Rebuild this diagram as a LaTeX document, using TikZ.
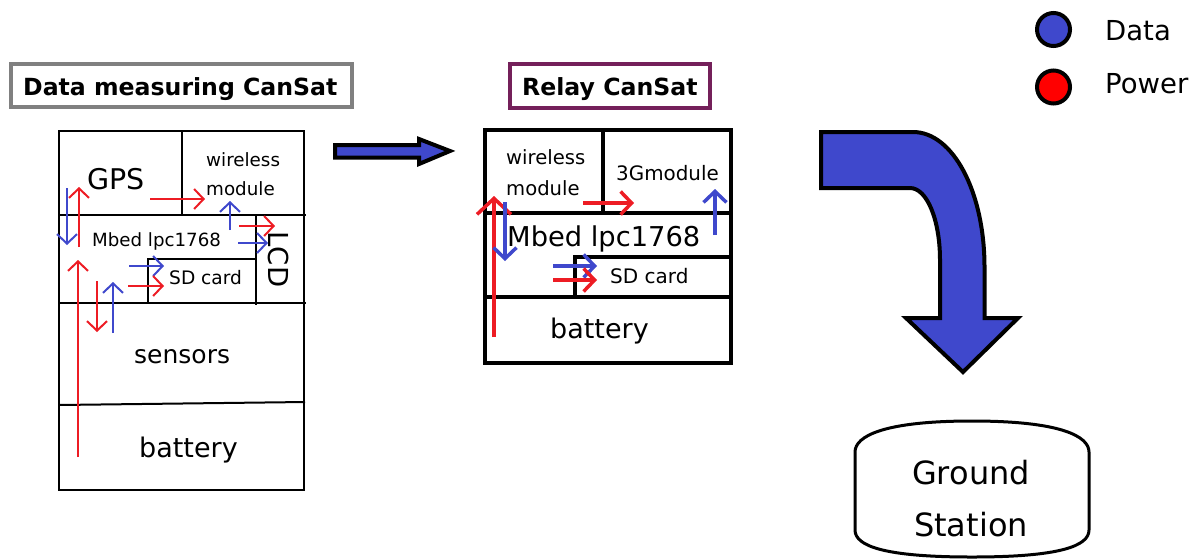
\documentclass[tikz,border=0pt]{standalone}
\usepackage{fontspec}
\setmainfont{DejaVu Sans}
\usetikzlibrary{arrows.meta}
\definecolor{pr}{HTML}{ED1C24}
\definecolor{pb}{HTML}{3F48CC}
\definecolor{lgray}{HTML}{808080}
\definecolor{purp}{HTML}{74205A}
\definecolor{legred}{HTML}{FF0000}
\newcommand\myfs[1]{\fontsize{#1}{#1}\selectfont}
\begin{document}
\begin{tikzpicture}[x=1pt,y=-1pt,
  txt/.style={inner sep=0pt, anchor=base west},
  thin box/.style={draw=black, line width=2pt},
  thick box/.style={draw=black, line width=4pt},
  sarrow/.style={line width=2pt, -{Straight Barb[length=9.5pt,width=20pt]}},
  barrow/.style={line width=3.5pt, -{Straight Barb[length=11pt,width=23pt]}},
  bigarrow/.style={line width=3.5pt, -{Straight Barb[length=16pt,width=34pt]}},
  fat/.style={draw=black, line width=4pt, fill=pb, line join=miter}]
\useasboundingbox (0,0) rectangle (1204,558);

% ---------- titles ----------
\draw[lgray, line width=4pt] (11,64) rectangle (352,107);
\node[txt] (t1) at (23,95) {\myfs{23.6}\bfseries Data measuring CanSat};
\draw[purp, line width=4pt] (510,64) rectangle (710,108);
\node[txt] (t2) at (522,95) {\myfs{23.6}\bfseries Relay CanSat};

% ---------- left CanSat ----------
\draw[thin box] (59,131) rectangle (304,490);
\draw[thin box] (182,131) -- (182,215);
\draw[thin box] (59,215) -- (306,215);
\draw[thin box] (256,214) -- (256,305);
\draw[thin box] (148,303) -- (148,259) -- (256,259);
\draw[thin box] (58,303) -- (306,303);
\draw[thin box] (59,405) -- (305,402);

\node[txt] (gps) at (87,189) {\myfs{28.5}GPS};
\node[txt] (wl1) at (206,166) {\myfs{18.3}wireless};
\node[txt] (wl2) at (206,195) {\myfs{18.3}module};
\node[txt] (mb1) at (92,246) {\myfs{18.2}Mbed lpc1768};
\node[txt] (sd1) at (169,284) {\myfs{18.6}SD card};
\node[inner sep=0pt, rotate=-90] (lcd) at (278.5,259.5) {\myfs{27.5}LCD};
\node[txt] (sens) at (134,363) {\myfs{25}sensors};
\node[txt] (bat1) at (139,457) {\myfs{27}battery};

\draw[sarrow, pb] (67,188) -- (67,245);
\draw[sarrow, pr] (79,247) -- (79,187);
\draw[sarrow, pr] (78,457) -- (78,260);
\draw[sarrow, pr] (97,281) -- (97,332);
\draw[sarrow, pb] (113,333) -- (113,282);
\draw[sarrow, pb] (129,266) -- (164,266);
\draw[sarrow, pr] (128,286) -- (164,286);
\draw[sarrow, pr] (150,199) -- (205,199);
\draw[sarrow, pb] (230,230) -- (230,201);
\draw[sarrow, pr] (239,226) -- (275,226);
\draw[sarrow, pb] (238,243) -- (268,243);

% ---------- middle arrow ----------
\draw[fat] (335,145) -- (419,145) -- (419,139) -- (450,151) -- (419,164) -- (419,157.5) -- (335,157.5) -- cycle;

% ---------- relay CanSat ----------
\draw[thick box] (485,130) rectangle (731,362.7);
\draw[thick box] (603.3,130) -- (603.3,213.3);
\draw[thick box] (485,213.3) -- (731,213.3);
\draw[thick box] (575,297.3) -- (575,257.3) -- (731,257.3);
\draw[thick box] (485,297.3) -- (731,297.3);

\node[txt] (wl3) at (506,164) {\myfs{19.6}wireless};
\node[txt] (wl4) at (506,195) {\myfs{19.6}module};
\node[txt] (g3) at (616,180) {\myfs{19.9}3Gmodule};
\node[txt] (mb2) at (507,246) {\myfs{27.3}Mbed lpc1768};
\node[txt] (sd2) at (610,283) {\myfs{20}SD card};
\node[txt] (bat2) at (550,338) {\myfs{27}battery};

\draw[bigarrow, pr] (494,337) -- (494,196);
\draw[barrow, pb] (505,202) -- (505,261);
\draw[barrow, pr] (583,203) -- (634,203);
\draw[barrow, pb] (715,235) -- (715,189);
\draw[barrow, pb] (553,266) -- (597,266);
\draw[barrow, pr] (553,280) -- (597,280);

% ---------- big curved arrow ----------
\draw[fat] (821,132) -- (913,132) .. controls (953,132) and (984.5,192) .. (984.5,267)
  -- (984.5,318) -- (1018,318) -- (963,372) -- (906,318) -- (940,318) -- (940,260)
  .. controls (940,220) and (927,188) .. (910,188) -- (821,188) -- cycle;

% ---------- ground station ----------
\draw[line width=3pt] (855,530) -- (855,452) .. controls (855,436) and (884,421) .. (972,421)
  .. controls (1060,421) and (1089,436) .. (1089,452) -- (1089,530)
  .. controls (1089,546) and (1060,557) .. (972,557) .. controls (884,557) and (855,546) .. (855,530) -- cycle;
\node[inner sep=0pt, anchor=base] (gs1) at (971,484) {\myfs{32}Ground};
\node[inner sep=0pt, anchor=base] (gs2) at (971,536) {\myfs{32}Station};

% ---------- legend ----------
\draw[line width=4pt, fill=pb] (1053.5,29.5) circle (16.5);
\node[txt] (ld) at (1105,40) {\myfs{27.5}Data};
\draw[line width=4pt, fill=legred] (1053.5,87) circle (16.5);
\node[txt] (lp) at (1105,93) {\myfs{27.5}Power};
\end{tikzpicture}
\end{document}
